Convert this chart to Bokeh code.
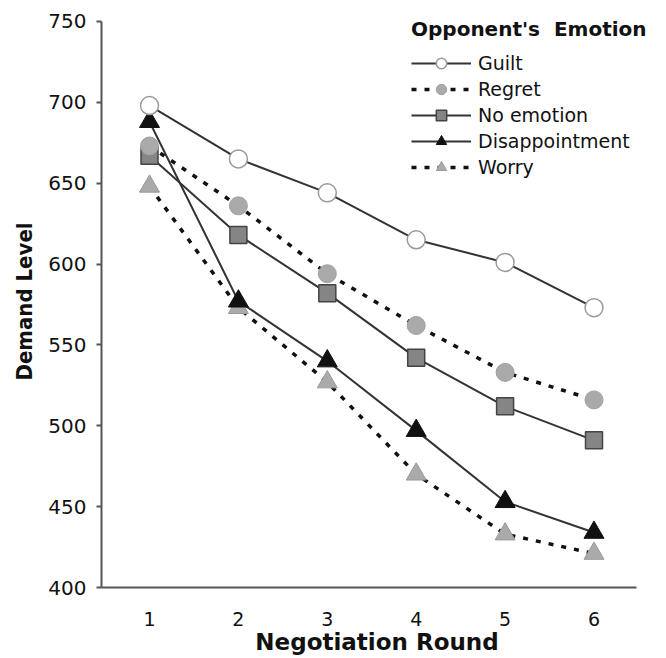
from bokeh.plotting import figure
from bokeh.models import FixedTicker, Range1d, Legend, LegendItem
from bokeh.embed import file_html
from bokeh.resources import INLINE

rounds = [1, 2, 3, 4, 5, 6]
guilt = [698, 665, 644, 615, 601, 573]
regret = [673, 636, 594, 562, 533, 516]
no_emotion = [667, 618, 582, 542, 512, 491]
disappointment = [688, 577, 540, 497, 453, 434]
worry = [648, 573, 527, 470, 433, 421]
y_ticks = [400, 450, 500, 550, 600, 650, 700, 750]

p = figure(width=666, height=658, output_backend="svg", toolbar_location=None,
           x_range=Range1d(0.46, 6.748), y_range=Range1d(400, 758),
           min_border_left=101, min_border_right=6, min_border_top=8, min_border_bottom=71)
p.outline_line_color = None
p.xgrid.visible = False
p.ygrid.visible = False

solid = dict(line_color="#333333", line_width=2)
dashed = dict(line_color="#111111", line_width=3.5, line_dash="5 8")

l_g = p.line(rounds, guilt, **solid)
l_r = p.line(rounds, regret, **dashed)
l_n = p.line(rounds, no_emotion, **solid)
l_d = p.line(rounds, disappointment, **solid)
l_w = p.line(rounds, worry, **dashed)

m_w = p.scatter(rounds, worry, marker="triangle", size=20, fill_color="#aaaaaa", line_color="#9a9a9a", line_width=1)
m_d = p.scatter(rounds, disappointment, marker="triangle", size=20, fill_color="#111111", line_color="#111111", line_width=1)
m_n = p.scatter(rounds, no_emotion, marker="square", size=17, fill_color="#858585", line_color="#444444", line_width=1.5)
m_r = p.scatter(rounds, regret, marker="circle", size=18, fill_color="#aaaaaa", line_color="#a0a0a0", line_width=1)
m_g = p.scatter(rounds, guilt, marker="circle", size=18, fill_color="white", line_color="#9a9a9a", line_width=1.5)

legend = Legend(items=[
    LegendItem(label="Guilt", renderers=[l_g, m_g]),
    LegendItem(label="Regret", renderers=[l_r, m_r]),
    LegendItem(label="No emotion", renderers=[l_n, m_n]),
    LegendItem(label="Disappointment", renderers=[l_d, m_d]),
    LegendItem(label="Worry", renderers=[l_w, m_w]),
], location=(310, 407))
legend.title = "Opponent's  Emotion"
legend.title_text_font = "DejaVu Sans"
legend.title_text_font_style = "bold"
legend.title_text_font_size = "20px"
legend.title_text_color = "#111111"
legend.title_standoff = 9
legend.label_text_font = "DejaVu Sans"
legend.label_text_font_size = "19px"
legend.label_text_color = "#111111"
legend.glyph_width = 60
legend.glyph_height = 26
legend.label_height = 26
legend.spacing = 0
legend.padding = 0
legend.margin = 0
legend.label_standoff = 7
legend.background_fill_alpha = 0
legend.border_line_alpha = 0
p.add_layout(legend, "center")

p.xaxis.ticker = FixedTicker(ticks=rounds)
p.yaxis.ticker = FixedTicker(ticks=y_ticks)
p.xaxis.bounds = (0.46, 6.48)
p.yaxis.bounds = (400, 750)

for ax in (p.xaxis[0], p.yaxis[0]):
    ax.axis_line_color = "#555555"
    ax.axis_line_width = 2
    ax.minor_tick_line_color = None
    ax.major_label_text_font = "DejaVu Sans"
    ax.major_label_text_font_size = "20px"
    ax.major_label_text_color = "#111111"

p.xaxis.major_tick_line_color = None
p.xaxis.major_label_standoff = 18
p.xaxis.major_label_text_font_size = "19px"
p.xaxis.axis_label = "Negotiation  Round"
p.xaxis.axis_label_text_font = "DejaVu Sans"
p.xaxis.axis_label_text_font_style = "bold"
p.xaxis.axis_label_text_font_size = "23px"
p.xaxis.axis_label_text_color = "#111111"
p.xaxis.axis_label_standoff = 0

p.yaxis.major_tick_line_color = "#555555"
p.yaxis.major_tick_line_width = 2
p.yaxis.major_tick_out = 5
p.yaxis.major_tick_in = 0
p.yaxis.major_label_standoff = 10
p.yaxis.axis_label = "Demand  Level"
p.yaxis.axis_label_text_font = "'DejaVu Sans Condensed', 'DejaVu Sans', sans-serif"
p.yaxis.axis_label_text_font_style = "bold"
p.yaxis.axis_label_text_font_size = "22px"
p.yaxis.axis_label_text_color = "#111111"
p.yaxis.axis_label_standoff = 8

open("out.html", "w").write(file_html(p, INLINE))
